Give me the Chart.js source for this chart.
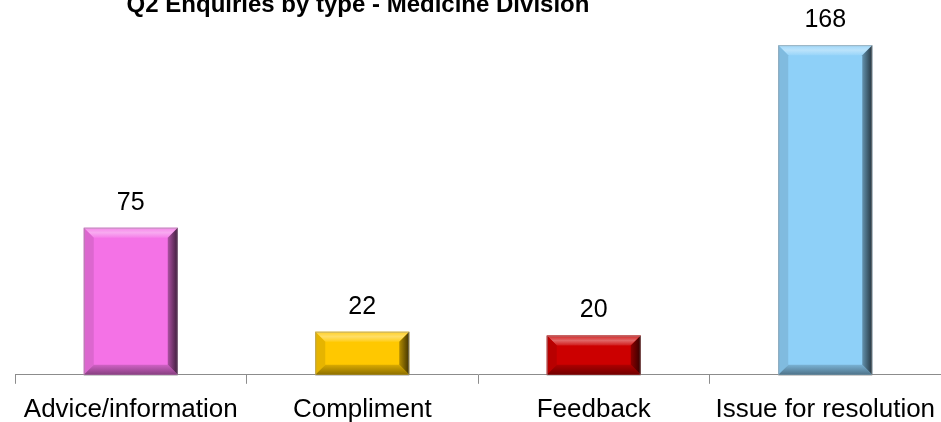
<!DOCTYPE html>
<html>
<head>
<meta charset="utf-8">
<script src="https://cdn.jsdelivr.net/npm/chart.js@4.4.0/dist/chart.umd.min.js"></script>
<style>
  html, body { margin: 0; padding: 0; background: #fff; }
  #wrap { width: 941px; height: 422px; position: relative; }
</style>
</head>
<body>
<div id="wrap"><canvas id="chart"></canvas></div>
<script>
// Chart data
const categories = ['Advice/information', 'Compliment', 'Feedback', 'Issue for resolution'];
const enquiries = [75, 22, 20, 168];
const barColors = ['#F472E6', '#FFC800', '#CC0000', '#8ED0F8'];
const chartTitle = 'Q2 Enquiries by type - Medicine Division';

const FONT = '"Liberation Sans", Arial, sans-serif';

// mix a hex colour toward white (f > 0) or black (f < 0)
function shade(hex, f) {
    const n = parseInt(hex.slice(1), 16);
    let r = (n >> 16) & 255, g = (n >> 8) & 255, b = n & 255;
    const t = f < 0 ? 0 : 255, p = Math.abs(f);
    r = Math.round(r + (t - r) * p);
    g = Math.round(g + (t - g) * p);
    b = Math.round(b + (t - b) * p);
    return 'rgb(' + r + ',' + g + ',' + b + ')';
}

// bevel look on each bar + value labels above
const bevelPlugin = {
    id: 'bevel',
    afterDatasetsDraw(chart) {
        const ctx = chart.ctx;
        const meta = chart.getDatasetMeta(0);
        meta.data.forEach((bar, i) => {
            const base = barColors[i];
            const L = bar.x - bar.width / 2, R = bar.x + bar.width / 2;
            const T = bar.y, B = bar.base;
            const bv = Math.min(10, (B - T) / 3);
            ctx.save();
            // top
            ctx.beginPath();
            ctx.moveTo(L, T); ctx.lineTo(R, T); ctx.lineTo(R - bv, T + bv); ctx.lineTo(L + bv, T + bv);
            ctx.closePath();
            let g = ctx.createLinearGradient(0, T, 0, T + bv);
            g.addColorStop(0, shade(base, 0.15));
            g.addColorStop(0.5, shade(base, 0.4));
            g.addColorStop(1, shade(base, 0.1));
            ctx.fillStyle = g; ctx.fill();
            // left
            ctx.beginPath();
            ctx.moveTo(L, T); ctx.lineTo(L + bv, T + bv); ctx.lineTo(L + bv, B - bv); ctx.lineTo(L, B);
            ctx.closePath();
            ctx.fillStyle = shade(base, -0.1); ctx.fill();
            // bottom
            ctx.beginPath();
            ctx.moveTo(L, B); ctx.lineTo(L + bv, B - bv); ctx.lineTo(R - bv, B - bv); ctx.lineTo(R, B);
            ctx.closePath();
            g = ctx.createLinearGradient(0, B - bv, 0, B);
            g.addColorStop(0, shade(base, -0.15));
            g.addColorStop(1, shade(base, -0.45));
            ctx.fillStyle = g; ctx.fill();
            // right
            ctx.beginPath();
            ctx.moveTo(R, T); ctx.lineTo(R - bv, T + bv); ctx.lineTo(R - bv, B - bv); ctx.lineTo(R, B);
            ctx.closePath();
            g = ctx.createLinearGradient(R - bv, 0, R, 0);
            g.addColorStop(0, shade(base, -0.3));
            g.addColorStop(1, shade(base, -0.75));
            ctx.fillStyle = g; ctx.fill();
            // thin outline
            ctx.strokeStyle = 'rgba(150,150,150,0.6)';
            ctx.lineWidth = 1;
            ctx.strokeRect(L + 0.5, T + 0.5, R - L - 1, B - T);
            // value label
            ctx.fillStyle = '#000';
            ctx.font = '25px ' + FONT;
            ctx.textAlign = 'center';
            ctx.textBaseline = 'middle';
            ctx.fillText(String(enquiries[i]), bar.x, T - 25);
            ctx.restore();
        });
    },
    afterDraw(chart) {
        // title sits partly above the top edge, as in the reference
        const ctx = chart.ctx;
        ctx.save();
        ctx.fillStyle = '#000';
        ctx.font = 'bold 24px ' + FONT;
        ctx.textAlign = 'center';
        ctx.textBaseline = 'alphabetic';
        ctx.fillText(chartTitle, 358, 12);
        ctx.restore();
    }
};

new Chart(document.getElementById('chart'), {
    type: 'bar',
    data: {
        labels: categories,
        datasets: [{
            data: enquiries,
            backgroundColor: barColors,
            borderWidth: 0,
            categoryPercentage: 1,
            barPercentage: 0.406
        }]
    },
    options: {
        responsive: true,
        maintainAspectRatio: false,
        animation: false,
        events: [],
        layout: {
            padding: { left: 15, right: 0, top: 2, bottom: -13 }
        },
        plugins: {
            legend: { display: false },
            title: { display: false },
            tooltip: { enabled: false }
        },
        scales: {
            y: {
                display: false,
                min: 0,
                max: 190
            },
            x: {
                // keep the axis running to the right edge despite the long last label
                afterFit(scale) {
                    scale.paddingLeft = 0;
                    scale.paddingRight = 0;
                },
                border: { display: true, color: '#8c8c8c', width: 1 },
                grid: {
                    drawOnChartArea: false,
                    drawTicks: true,
                    tickLength: 9,
                    color: '#8c8c8c'
                },
                ticks: {
                    color: '#000',
                    padding: 10,
                    maxRotation: 0,
                    autoSkip: false,
                    font: { family: FONT, size: 26 }
                }
            }
        }
    },
    plugins: [bevelPlugin]
});
</script>
</body>
</html>
